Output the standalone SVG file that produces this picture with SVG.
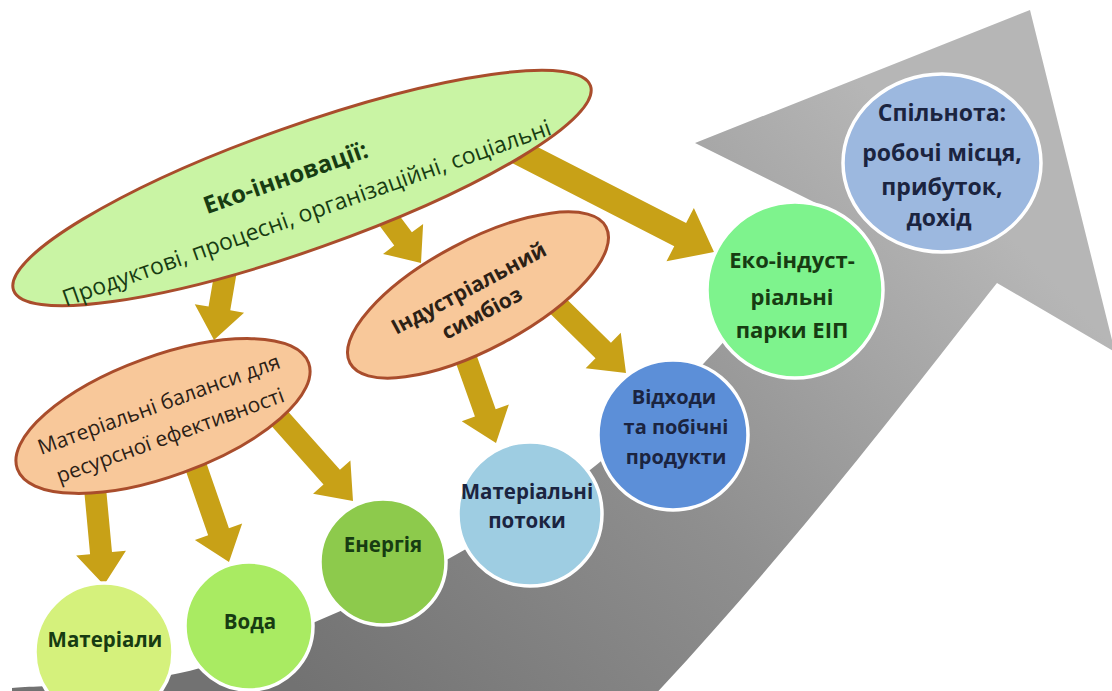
<svg xmlns="http://www.w3.org/2000/svg" width="1112" height="691" viewBox="0 0 1112 691">
<defs>
<linearGradient id="gGray" gradientUnits="userSpaceOnUse" x1="300" y1="690" x2="900" y2="120">
<stop offset="0" stop-color="#727272"/>
<stop offset="0.5" stop-color="#8f8f8f"/>
<stop offset="1" stop-color="#b6b6b6"/>
</linearGradient>
<style>
.t{font-family:"Open Sans","Noto Sans","DejaVu Sans",sans-serif;text-anchor:middle}
.b{font-weight:700}
.g{fill:#173c12}
.n{fill:#1b2440}
.br{fill:#2c2116}
.arr{fill:#c8a117}
.ov{stroke:#a94d2c;stroke-width:3}
.c{stroke:#ffffff;stroke-width:3.5}
</style>
</defs>
<rect width="1112" height="691" fill="#ffffff"/>
<g id="bigArrow">
<path fill="url(#gGray)" d="M12,688 C40,685.5 129.5,684 180,673 C230.5,662 270,641.2 315,622 C360,602.8 404.2,583.3 450,558 C495.8,532.7 547.5,502.7 590,470 C632.5,437.3 675,392.8 705,362 C735,331.2 749.5,310.5 770,285 C790.5,259.5 818.3,221.7 828,209 L695,143 L1030,10 L1115,352 L997,283 C920,380 800,540 650,700 L12,700 Z"/>
</g>
<g id="connectors">
<polygon class="arr" points="215.16,268.14 208.57,306.60 194.77,304.23 214,340 244.05,312.69 230.25,310.32 236.84,271.86"/>
<polygon class="arr" points="374.18,218.57 394.25,245.51 383.02,253.88 421,263 423.12,224.00 411.89,232.37 391.82,205.43"/>
<polygon class="arr" points="509.07,161.57 674.25,246.23 666.49,261.36 714,252 693.87,207.96 686.11,223.09 520.93,138.43"/>
<polygon class="arr" points="84.05,489.02 90.09,554.16 76.15,555.45 104,585 125.93,550.83 111.99,552.12 105.95,486.98"/>
<polygon class="arr" points="182.60,461.60 208.13,535.36 194.90,539.94 229,562 242.16,523.58 228.93,528.16 203.40,454.40"/>
<polygon class="arr" points="263.78,417.31 323.50,484.41 313.04,493.72 353,501 350.40,460.48 339.94,469.79 280.22,402.69"/>
<polygon class="arr" points="452.63,353.68 474.93,416.52 461.74,421.20 496,443 508.86,404.48 495.67,409.16 473.37,346.32"/>
<polygon class="arr" points="547.28,310.83 595.49,358.36 585.66,368.33 626,373 620.76,332.73 610.93,342.70 562.72,295.17"/>
</g>
<g id="ecoInnovations" transform="translate(302,188) rotate(-19.5)">
<ellipse class="ov" cx="0" cy="0" rx="306" ry="62" fill="#c9f4a4"/>
<text class="t b g" x="-12" y="-7" font-size="24">Еко-інновації:</text>
<text class="t g" x="-4" y="33" font-size="23">Продуктові, процесні, організаційні, соціальні</text>
</g>
<g id="materialBalances" transform="translate(163,416) rotate(-20)">
<ellipse class="ov" cx="0" cy="0" rx="155" ry="60" fill="#f8c89a"/>
<text class="t br" x="0" y="-5" font-size="21">Матеріальні баланси для</text>
<text class="t br" x="0" y="28" font-size="21">ресурсної ефективності</text>
</g>
<g id="symbiosis" transform="translate(478,295) rotate(-28)">
<ellipse class="ov" cx="0" cy="0" rx="145" ry="54" fill="#f8c89a"/>
<text class="t b br" x="-5" y="-3" font-size="21">Індустріальний</text>
<text class="t b br" x="-5" y="25" font-size="21">симбіоз</text>
</g>
<g id="materials">
<circle class="c" cx="104" cy="652" r="69" fill="#d5f17c"/>
<text class="t b g" x="105" y="647" font-size="20.5">Матеріали</text>
</g>
<g id="water">
<circle class="c" cx="249" cy="626" r="64" fill="#a9eb62"/>
<text class="t b g" x="250" y="629" font-size="20.5">Вода</text>
</g>
<g id="energy">
<circle class="c" cx="383" cy="562" r="63" fill="#8dca4c"/>
<text class="t b g" x="383" y="552" font-size="20.5">Енергія</text>
</g>
<g id="materialFlows">
<circle class="c" cx="530" cy="514" r="72" fill="#9ecde2"/>
<text class="t b n" x="527" y="499" font-size="20.5">Матеріальні</text>
<text class="t b n" x="527" y="528" font-size="20.5">потоки</text>
</g>
<g id="waste">
<circle class="c" cx="673" cy="435" r="75" fill="#5c8fd8"/>
<text class="t b n" x="674" y="404" font-size="20">Відходи</text>
<text class="t b n" x="676" y="434" font-size="20">та побічні</text>
<text class="t b n" x="676" y="464" font-size="20">продукти</text>
</g>
<g id="ecoParks">
<circle class="c" cx="795" cy="290" r="88" fill="#7ef38d"/>
<text class="t b g" x="792" y="268" font-size="22">Еко-індуст-</text>
<text class="t b g" x="792" y="305" font-size="22">ріальні</text>
<text class="t b g" x="792" y="338" font-size="22">парки ЕІП</text>
</g>
<g id="community">
<ellipse class="c" cx="942" cy="163" rx="99" ry="89" fill="#9cb8df"/>
<text class="t b n" x="942" y="121" font-size="23">Спільнота:</text>
<text class="t b n" x="942" y="161" font-size="23">робочі місця,</text>
<text class="t b n" x="942" y="195" font-size="23">прибуток,</text>
<text class="t b n" x="939" y="226" font-size="23">дохід</text>
</g>
</svg>
